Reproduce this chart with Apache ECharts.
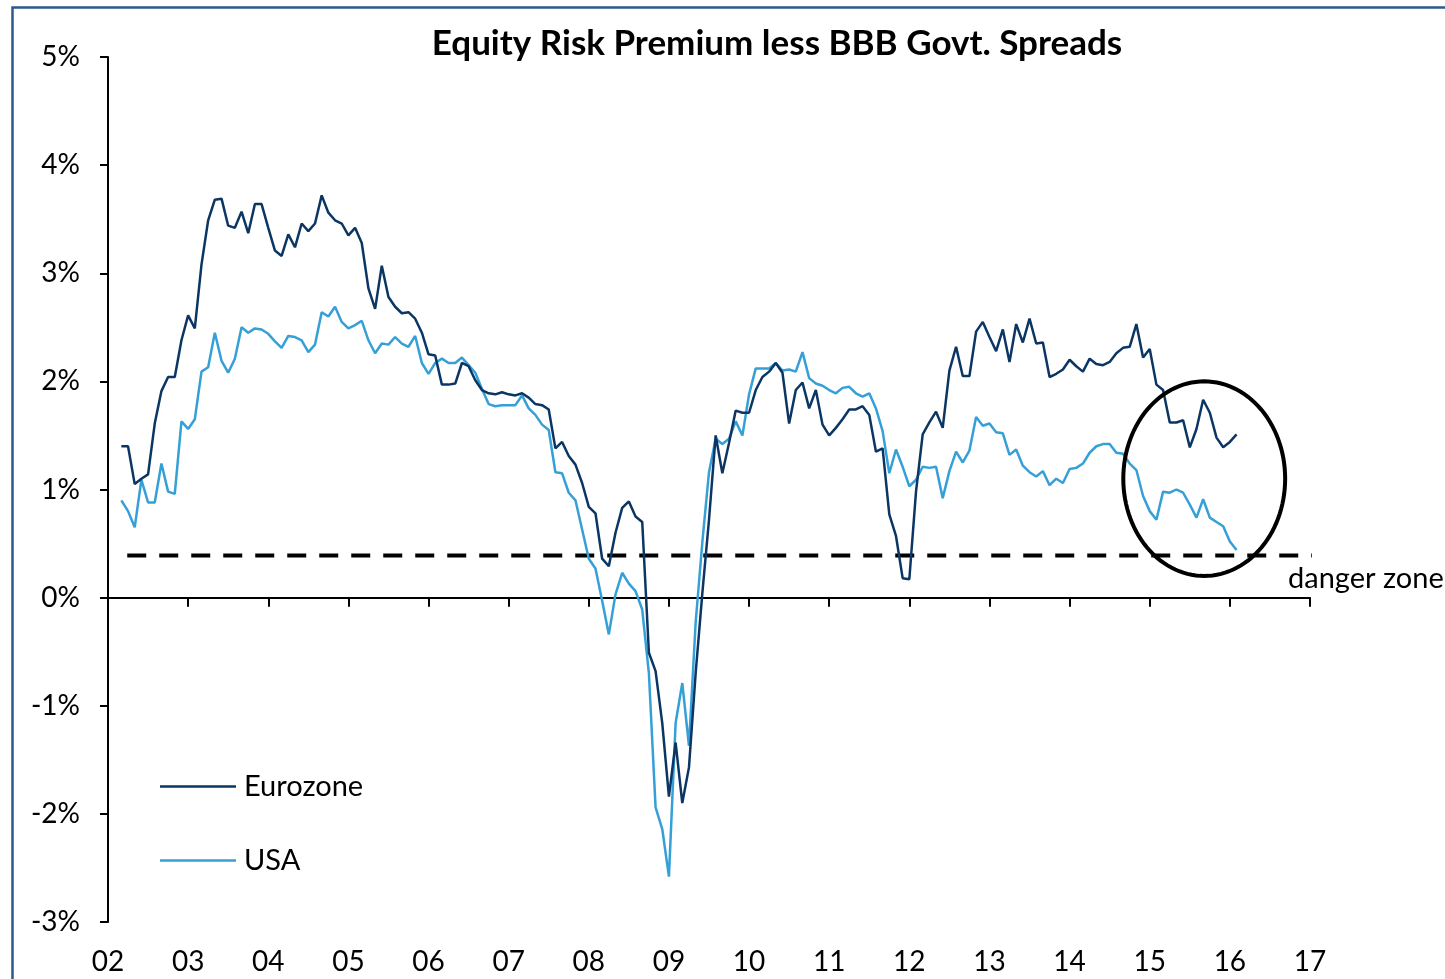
<!DOCTYPE html>
<html>
<head>
<meta charset="utf-8">
<script src="https://cdn.jsdelivr.net/npm/echarts@6/dist/echarts.min.js"></script>
<style>
  html, body { margin: 0; padding: 0; background: #ffffff; }
  #chart { width: 1445px; height: 979px; }
</style>
</head>
<body>
<div id="chart"></div>
<script>
// ---- Data (monthly, starting March 2002) ----
const startYear = 2002;
const startMonth = 2; // 0 = Jan, so 2 = Mar
const eurozone = [
  1.40, 1.40, 1.05, 1.10, 1.14, 1.61, 1.91, 2.04, 2.04, 2.38, 2.61, 2.49,
  3.08, 3.49, 3.68, 3.69, 3.44, 3.42, 3.57, 3.37, 3.64, 3.64, 3.42, 3.21,
  3.16, 3.36, 3.24, 3.46, 3.39, 3.46, 3.72, 3.56, 3.49, 3.46, 3.35, 3.42,
  3.28, 2.86, 2.67, 3.07, 2.78, 2.69, 2.63, 2.64, 2.58, 2.45, 2.25, 2.24,
  1.97, 1.97, 1.98, 2.17, 2.14, 2.01, 1.92, 1.89, 1.88, 1.90, 1.88, 1.87,
  1.89, 1.85, 1.79, 1.78, 1.74, 1.38, 1.44, 1.31, 1.23, 1.06, 0.84, 0.78,
  0.36, 0.29, 0.60, 0.83, 0.89, 0.75, 0.70, -0.51, -0.68, -1.16, -1.84, -1.34,
  -1.90, -1.57, -0.70, 0.04, 0.72, 1.50, 1.15, 1.43, 1.73, 1.71, 1.71, 1.92,
  2.04, 2.09, 2.17, 2.08, 1.61, 1.92, 1.99, 1.75, 1.92, 1.60, 1.50, 1.57,
  1.65, 1.74, 1.74, 1.77, 1.69, 1.35, 1.38, 0.77, 0.57, 0.18, 0.17, 0.98,
  1.51, 1.62, 1.72, 1.57, 2.10, 2.32, 2.05, 2.05, 2.46, 2.55, 2.41, 2.28,
  2.48, 2.18, 2.53, 2.36, 2.58, 2.35, 2.36, 2.04, 2.07, 2.11, 2.20, 2.14,
  2.09, 2.21, 2.16, 2.15, 2.18, 2.26, 2.31, 2.32, 2.53, 2.22, 2.30, 1.97,
  1.92, 1.62, 1.62, 1.64, 1.39, 1.56, 1.83, 1.71, 1.48, 1.39, 1.44, 1.51
];
const usa = [
  0.90, 0.80, 0.65, 1.09, 0.88, 0.88, 1.24, 0.98, 0.96, 1.63, 1.56, 1.65,
  2.09, 2.13, 2.45, 2.19, 2.08, 2.21, 2.50, 2.45, 2.49, 2.48, 2.44, 2.37,
  2.31, 2.42, 2.41, 2.38, 2.27, 2.34, 2.64, 2.60, 2.69, 2.55, 2.49, 2.52,
  2.56, 2.38, 2.26, 2.35, 2.34, 2.41, 2.35, 2.32, 2.42, 2.17, 2.07, 2.17,
  2.21, 2.17, 2.17, 2.22, 2.15, 2.08, 1.93, 1.79, 1.77, 1.78, 1.78, 1.78,
  1.87, 1.75, 1.69, 1.60, 1.55, 1.16, 1.15, 0.97, 0.90, 0.63, 0.36, 0.27,
  -0.03, -0.34, 0.03, 0.23, 0.13, 0.06, -0.11, -0.70, -1.94, -2.14, -2.58, -1.16,
  -0.79, -1.37, -0.23, 0.51, 1.16, 1.47, 1.42, 1.47, 1.63, 1.50, 1.88, 2.12,
  2.12, 2.12, 2.17, 2.10, 2.11, 2.09, 2.27, 2.03, 1.98, 1.96, 1.92, 1.89,
  1.94, 1.95, 1.89, 1.86, 1.89, 1.75, 1.54, 1.15, 1.37, 1.21, 1.03, 1.09,
  1.21, 1.20, 1.21, 0.92, 1.17, 1.35, 1.25, 1.36, 1.67, 1.59, 1.61, 1.53,
  1.52, 1.32, 1.37, 1.22, 1.16, 1.12, 1.17, 1.04, 1.10, 1.06, 1.19, 1.20,
  1.24, 1.34, 1.40, 1.42, 1.42, 1.34, 1.33, 1.24, 1.18, 0.94, 0.80, 0.72,
  0.98, 0.97, 1.00, 0.97, 0.86, 0.74, 0.91, 0.74, 0.70, 0.66, 0.52, 0.44
];
const seriesNames = ['Eurozone', 'USA'];
const dangerLevel = 0.39;             // % threshold for "danger zone"
const dangerSpan = [2002.24, 2017.22]; // years covered by the dashed line
const dangerLabel = 'danger zone';
// highlighted ellipse: centre (year, %), radii (years, %)
const highlight = [[2015.68, 1.10, 1.01, 0.90]];
const yTicks = { min: -3, max: 5, interval: 1 };
const xTicks = { min: 2002, max: 2017, interval: 1 };
const titleText = 'Equity Risk Premium less BBB Govt. Spreads';

// ---- Build ----
const toPairs = arr => arr.map((v, i) => [startYear + (startMonth + i) / 12, v]);
const FONT = 'Lato, "Noto Sans", sans-serif';
const NAVY = '#0b3664';
const LIGHT = '#35a0d7';

const chart = echarts.init(document.getElementById('chart'), null, { renderer: 'canvas' });

chart.setOption({
  backgroundColor: '#ffffff',
  animation: false,
  textStyle: { fontFamily: FONT },
  title: {
    text: titleText,
    left: 772, textAlign: 'center',
    top: 21,
    textStyle: { fontFamily: FONT, fontSize: 35, fontWeight: 'bold', color: '#000' }
  },
  graphic: [
    {
      type: 'rect', left: 10, top: 5, z: -10,
      shape: { width: 1500, height: 1000 },
      style: { fill: 'none', stroke: '#2c5a8e', lineWidth: 2.5 }
    },
    {
      type: 'text', left: 1288, top: 564,
      style: { text: dangerLabel, font: '29px Lato, "Noto Sans", sans-serif', fill: '#000' }
    }
  ],
  legend: {
    data: seriesNames,
    orient: 'vertical',
    left: 155, top: 766,
    itemGap: 43,
    itemWidth: 76, itemHeight: 2.5,
    icon: 'rect',
    textStyle: { fontFamily: FONT, fontSize: 29, color: '#000', lineHeight: 31, padding: [0, 0, 0, 3] }
  },
  grid: { left: 108, right: 135, top: 57, bottom: 57, containLabel: false },
  xAxis: [
    {
      type: 'value', position: 'bottom',
      min: xTicks.min, max: xTicks.max, interval: xTicks.interval,
      axisLine: { show: true, onZero: true, lineStyle: { color: '#000', width: 2 } },
      axisTick: { show: true, length: 9, lineStyle: { color: '#000', width: 2 } },
      axisLabel: { show: false },
      splitLine: { show: false }
    },
    {
      type: 'value', position: 'bottom',
      min: xTicks.min, max: xTicks.max, interval: xTicks.interval,
      axisLine: { show: false, onZero: false },
      axisTick: { show: false },
      axisLabel: {
        show: true, margin: 26, fontSize: 28, fontFamily: FONT, color: '#000',
        formatter: v => String(Math.round(v) % 100).padStart(2, '0')
      },
      splitLine: { show: false }
    }
  ],
  yAxis: {
    type: 'value',
    min: yTicks.min, max: yTicks.max, interval: yTicks.interval,
    axisLine: { show: true, onZero: false, lineStyle: { color: '#000', width: 2 } },
    axisTick: { show: true, length: 8, lineStyle: { color: '#000', width: 2 } },
    axisLabel: { margin: 28, fontSize: 28, fontFamily: FONT, color: '#000', formatter: '{value}%' },
    splitLine: { show: false }
  },
  series: [
    {
      name: seriesNames[0], type: 'line', xAxisIndex: 0,
      data: toPairs(eurozone), showSymbol: false, symbol: 'none',
      lineStyle: { color: NAVY, width: 2.5 }, itemStyle: { color: NAVY }, z: 4
    },
    {
      name: seriesNames[1], type: 'line', xAxisIndex: 0,
      data: toPairs(usa), showSymbol: false, symbol: 'none',
      lineStyle: { color: LIGHT, width: 2.5 }, itemStyle: { color: LIGHT }, z: 3
    },
    {
      name: 'danger', type: 'line', xAxisIndex: 0, clip: false,
      data: dangerSpan.map(x => [x, dangerLevel]), showSymbol: false, symbol: 'none',
      lineStyle: { color: '#000', width: 4, type: [19, 13] }, z: 2,
      silent: true
    },
    {
      name: 'highlight', type: 'custom', xAxisIndex: 0,
      data: highlight, z: 5, silent: true,
      renderItem: function (params, api) {
        const c = api.coord([api.value(0), api.value(1)]);
        const rx = api.size([api.value(2), 0])[0];
        const ry = api.size([0, api.value(3)])[1];
        const pts = [];
        for (let k = 0; k < 120; k++) {
          const t = (k / 120) * Math.PI * 2;
          pts.push([c[0] + rx * Math.cos(t), c[1] + ry * Math.sin(t)]);
        }
        return {
          type: 'polygon',
          shape: { points: pts },
          style: { fill: 'none', stroke: '#000', lineWidth: 4 }
        };
      }
    }
  ]
});
</script>
</body>
</html>
